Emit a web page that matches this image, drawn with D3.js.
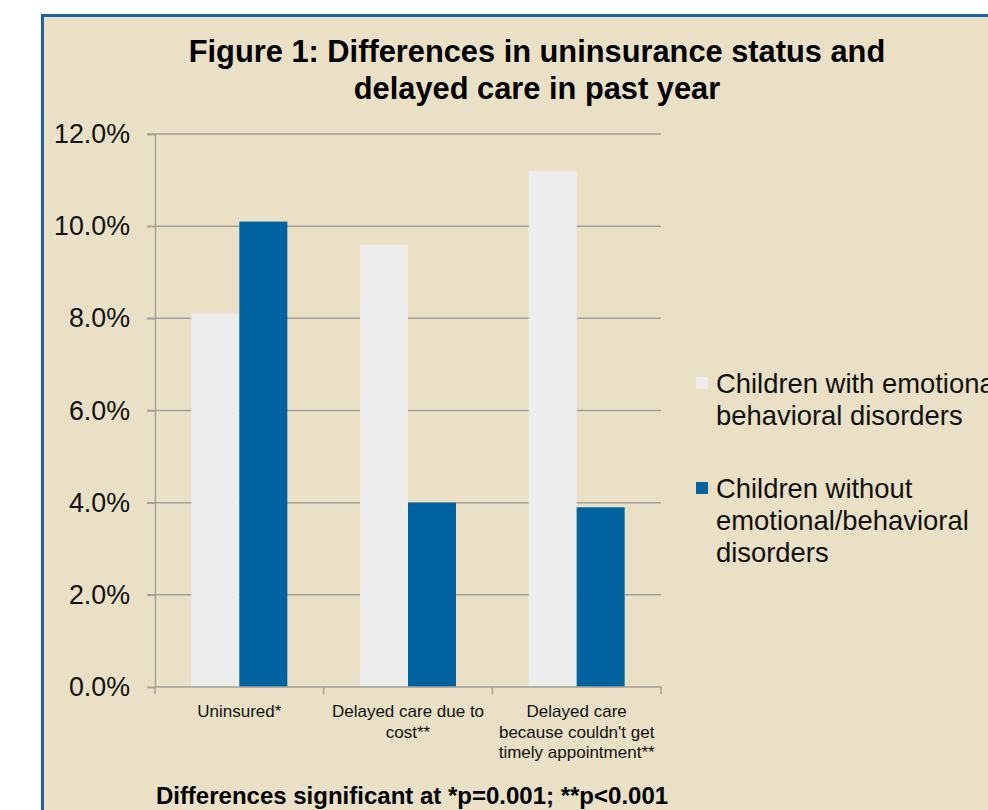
<!DOCTYPE html>
<html>
<head>
<meta charset="utf-8">
<script src="https://cdn.jsdelivr.net/npm/d3@7"></script>
<style>
  body { margin: 0; background: #ffffff; }
  svg { display: block; font-family: "Liberation Sans", Arial, sans-serif; }
</style>
</head>
<body>
<script>
const categories = [
  ["Uninsured*"],
  ["Delayed care due to", "cost**"],
  ["Delayed care", "because couldn't get", "timely appointment**"]
];
const withEBD = [8.1, 9.6, 11.2];
const withoutEBD = [10.1, 4.0, 3.9];
const seriesNames = [
  ["Children with emotional/", "behavioral disorders"],
  ["Children without", "emotional/behavioral", "disorders"]
];
const yTicks = [0, 2, 4, 6, 8, 10, 12];
const colors = ["#ededed", "#0063a0"];

const width = 988, height = 810;
const svg = d3.select("body").append("svg")
  .attr("width", width)
  .attr("height", height);

// panel background + blue border (runs off right/bottom edge)
svg.append("rect")
  .attr("x", 42.5).attr("y", 15.5)
  .attr("width", 1000).attr("height", 900)
  .attr("fill", "#e9e0c5")
  .attr("stroke", "#1f62a8")
  .attr("stroke-width", 3);

// title
const title = svg.append("text")
  .attr("text-anchor", "middle")
  .attr("font-weight", "bold")
  .attr("font-size", "30.8px")
  .attr("fill", "#000");
title.append("tspan").attr("x", 537).attr("y", 62).text("Figure 1: Differences in uninsurance status and");
title.append("tspan").attr("x", 537).attr("y", 99).text("delayed care in past year");

const plotL = 155, plotR = 661, plotT = 134, plotB = 687;

const x = d3.scaleBand()
  .domain(d3.range(categories.length))
  .range([plotL, plotR])
  .paddingInner(0).paddingOuter(0);

const y = d3.scaleLinear().domain([0, 12]).range([plotB, plotT]);

// gridlines
svg.append("g")
  .selectAll("line")
  .data(yTicks.filter(d => d > 0))
  .enter()
  .append("line")
  .attr("x1", plotL - 8)
  .attr("x2", plotR)
  .attr("y1", d => y(d))
  .attr("y2", d => y(d))
  .attr("stroke", "#a3a19b")
  .attr("stroke-width", 1.5);

// y axis
const yAxis = svg.append("g")
  .attr("transform", `translate(${plotL},0)`)
  .call(d3.axisLeft(y).tickValues(yTicks).tickSize(8).tickPadding(17)
    .tickFormat(d => d.toFixed(1) + "%"));
yAxis.select(".domain").attr("stroke", "#a3a19b").attr("stroke-width", 1.5);
yAxis.selectAll(".tick line").attr("stroke", "#a3a19b").attr("stroke-width", 1.5);
yAxis.selectAll(".tick text")
  .attr("font-size", "26.8px")
  .attr("font-family", "Liberation Sans, Arial, sans-serif")
  .attr("fill", "#111");

// bars
const barW = 48;
const groups = svg.append("g")
  .selectAll("g")
  .data(categories.map((c, i) => [withEBD[i], withoutEBD[i]]))
  .enter()
  .append("g")
  .attr("transform", (d, i) => `translate(${x(i) + x.bandwidth() / 2 - barW},0)`);

groups.selectAll("rect")
  .data(d => d)
  .enter()
  .append("rect")
  .attr("x", (d, j) => j * barW)
  .attr("y", d => y(d))
  .attr("width", barW)
  .attr("height", d => plotB - y(d))
  .attr("fill", (d, j) => colors[j]);

// x axis
const xAxis = svg.append("g")
  .attr("transform", `translate(0,${plotB})`);
xAxis.append("line")
  .attr("x1", plotL).attr("x2", plotR)
  .attr("stroke", "#a3a19b").attr("stroke-width", 1.5);
xAxis.selectAll("line.tk")
  .data(d3.range(categories.length + 1))
  .enter()
  .append("line")
  .attr("class", "tk")
  .attr("x1", i => plotL + i * x.bandwidth())
  .attr("x2", i => plotL + i * x.bandwidth())
  .attr("y1", 0).attr("y2", 7)
  .attr("stroke", "#a3a19b").attr("stroke-width", 1.5);

categories.forEach((lines, i) => {
  const t = svg.append("text")
    .attr("text-anchor", "middle")
    .attr("font-size", "17px")
    .attr("fill", "#111");
  lines.forEach((l, k) => {
    t.append("tspan")
      .attr("x", x(i) + x.bandwidth() / 2)
      .attr("y", 717 + k * 20.5)
      .text(l);
  });
});

// footnote
svg.append("text")
  .attr("x", 412).attr("y", 804)
  .attr("text-anchor", "middle")
  .attr("font-weight", "bold")
  .attr("font-size", "24px")
  .attr("fill", "#000")
  .text("Differences significant at *p=0.001; **p<0.001");

// legend
const legendY = [393, 498];
seriesNames.forEach((lines, i) => {
  svg.append("rect")
    .attr("x", 696).attr("y", legendY[i] - 16)
    .attr("width", 12).attr("height", 12)
    .attr("fill", colors[i]);
  const t = svg.append("text")
    .attr("font-size", "27.4px")
    .attr("fill", "#111");
  lines.forEach((l, k) => {
    t.append("tspan")
      .attr("x", 716)
      .attr("y", legendY[i] + k * 32)
      .text(l);
  });
});
</script>
</body>
</html>
